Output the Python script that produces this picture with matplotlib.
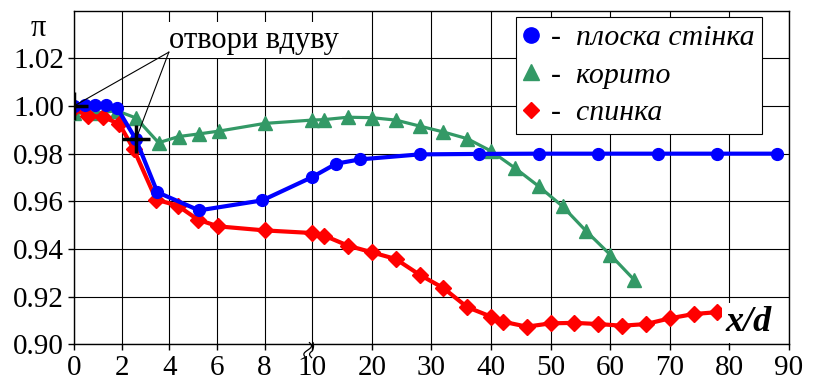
import numpy as np
import matplotlib

matplotlib.use("Agg")
import matplotlib.pyplot as plt
from matplotlib import font_manager
from matplotlib.lines import Line2D
from matplotlib.transforms import blended_transform_factory


def pick_serif():
    names = {f.name for f in font_manager.fontManager.ttflist}
    for cand in ("Liberation Serif", "Times New Roman", "Nimbus Roman", "Noto Serif",
                 "DejaVu Serif"):
        if cand in names:
            return cand
    serif = sorted(n for n in names if "Serif" in n or "Times" in n)
    return serif[0] if serif else "DejaVu Sans"


SERIF = pick_serif()
plt.rcParams["font.family"] = [SERIF, "DejaVu Serif", "DejaVu Sans"]

# pressure ratio along the surface, x/d measured from the injection holes
flat_x = [0, 0.45, 0.9, 1.35, 1.8, 2.6, 3.5, 5.25, 7.9, 10, 14, 18, 28, 38, 48, 58, 68, 78, 88]
flat_y = [1.000, 1.0005, 1.0005, 1.0005, 0.9993, 0.986, 0.9638, 0.9562, 0.9604, 0.9702,
          0.9758, 0.9776, 0.9797, 0.9799, 0.980, 0.980, 0.980, 0.980, 0.980]

trough_x = [0, 0.9, 1.8, 2.6, 3.55, 4.4, 5.25, 6.1, 8, 10, 12, 16, 20, 24, 28, 32, 36, 40,
            44, 48, 52, 56, 60, 64]
trough_y = [0.997, 0.997, 0.998, 0.995, 0.9846, 0.9872, 0.9883, 0.9895, 0.9927, 0.9941,
            0.9943, 0.9953, 0.9951, 0.9941, 0.9916, 0.9891, 0.9863, 0.9811, 0.974, 0.9663,
            0.9579, 0.9474, 0.9376, 0.9271]

back_x = [0, 0.6, 1.2, 1.9, 2.5, 3.45, 4.35, 5.2, 6.05, 8, 10, 12, 16, 20, 24, 28, 32, 36,
          40, 42, 46, 50, 54, 58, 62, 66, 70, 74, 78]
back_y = [0.999, 0.9958, 0.9955, 0.9925, 0.982, 0.9607, 0.9582, 0.9523, 0.9495, 0.9478,
          0.9467, 0.9456, 0.9414, 0.9386, 0.9358, 0.9292, 0.9236, 0.9156, 0.9116, 0.9095,
          0.9074, 0.9088, 0.9090, 0.9085, 0.9078, 0.9085, 0.9109, 0.9127, 0.9135]

# injection hole positions
holes_x = [0, 2.6]
holes_y = [1.000, 0.986]

x_ticks = [0, 2, 4, 6, 8, 10, 20, 30, 40, 50, 60, 70, 80, 90]
y_ticks = [0.90, 0.92, 0.94, 0.96, 0.98, 1.00, 1.02]

labels = ["плоска стінка", "корито", "спинка"]

BLUE = "#0000ff"
GREEN = "#339966"
RED = "#ff0000"


def fwd(x):
    # 0..10 at full scale, beyond 10 compressed 4x
    x = np.asarray(x, dtype=float)
    return np.where(x <= 10, x, 10 + (x - 10) / 4.0)


def inv(u):
    u = np.asarray(u, dtype=float)
    return np.where(u <= 10, u, 10 + (u - 10) * 4.0)


fig = plt.figure(figsize=(8.21, 3.85), dpi=100)
ax = fig.add_axes([0.0901, 0.1057, 0.8709, 0.8665])
ax.set_xscale("function", functions=(fwd, inv))
ax.set_xlim(0, 90)
ax.set_ylim(0.90, 1.04)
ax.set_xticks(x_ticks)
ax.set_xticklabels([str(t) for t in x_ticks])
ax.set_yticks(y_ticks)
ax.set_yticklabels([f"{t:.2f}" for t in y_ticks])
ax.tick_params(labelsize=21, length=4, width=1, direction="out", color="black")
ax.tick_params(axis="x", pad=4)
ax.tick_params(axis="y", pad=3)
ax.grid(True, color="black", lw=0.8)
ax.set_axisbelow(True)
for sp in ax.spines.values():
    sp.set_color("black")
    sp.set_linewidth(1.0)

ax.plot(trough_x, trough_y, "-^", color=GREEN, lw=2.3, ms=10, zorder=3)
ax.plot(back_x, back_y, "-D", color=RED, lw=3, ms=8, zorder=4)
ax.plot(flat_x, flat_y, "-o", color=BLUE, lw=3, ms=8.5, zorder=5)
ax.plot(holes_x, holes_y, "+", color="black", ms=20, mew=2.5, zorder=6)

# callout to the injection holes
tx, ty = 3.98, 1.0226
for hx, hy in zip(holes_x, holes_y):
    ax.plot([tx, hx], [ty, hy], color="black", lw=0.8, zorder=7)
ax.text(3.98, 1.0245, "отвори вдуву", fontsize=22, ha="left", va="baseline", zorder=6,
        bbox=dict(boxstyle="square,pad=0.12", fc="white", ec="none"))

ax.text(79.3, 0.909, "x/d", fontsize=26, fontweight="bold", fontstyle="italic",
        ha="left", va="center", zorder=8,
        bbox=dict(boxstyle="square,pad=0.1", fc="white", ec="none"))

# axis break mark at x = 10
tr = blended_transform_factory(ax.transData, ax.transAxes)
s = np.linspace(0, 1, 30)
for dx in (-0.12, 0.12):
    bx = 10 + dx + 0.12 * np.sin(s * 2 * np.pi) - 0.15 * s
    by = 0.005 - 0.045 * s
    ax.plot(bx, by, color="black", lw=0.9, transform=tr, clip_on=False, zorder=9)

handles = [
    Line2D([], [], ls="none", marker="o", color=BLUE, ms=11),
    Line2D([], [], ls="none", marker="^", color=GREEN, ms=11),
    Line2D([], [], ls="none", marker="D", color=RED, ms=8),
]
leg = ax.legend(handles, ["-  " + t for t in labels], loc="upper right",
                bbox_to_anchor=(0.962, 0.981), borderaxespad=0,
                prop=dict(family=SERIF, style="italic", size=21.5),
                frameon=True, fancybox=False, framealpha=1, edgecolor="black",
                handlelength=0.5, handletextpad=0.4, labelspacing=0.35,
                borderpad=0.25)
leg.get_frame().set_linewidth(0.8)
leg.set_zorder(10)

fig.text(0.047, 0.907, "π", fontsize=22, ha="center", va="baseline")

fig.savefig("out.png", dpi=100)
